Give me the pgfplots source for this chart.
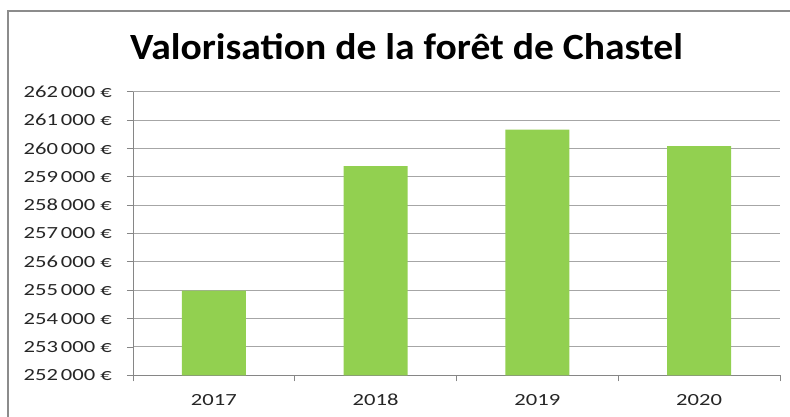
\documentclass[border=0pt]{standalone}
\usepackage{pgfplots}
\pgfplotsset{compat=1.18}
\usepackage{fontspec}
\setmainfont{Carlito}
\newfontfamily\tickfont[FakeStretch=1.33]{Carlito}
\newfontfamily\titlefont[FakeStretch=1.07]{Carlito}
\definecolor{bargreen}{HTML}{92D050}
\definecolor{gridgray}{HTML}{A6A6A6}
\definecolor{axisgray}{HTML}{868686}
\definecolor{framegray}{HTML}{8C8C8C}
\begin{document}
\begin{tikzpicture}
\useasboundingbox (0pt,0pt) rectangle (790pt,416pt);
\draw[framegray, line width=2.2pt] (8pt,-20pt) -- (8pt,405pt) -- (810pt,405pt);
\node[anchor=base, inner sep=0pt, font=\fontsize{37}{40}\selectfont\titlefont\bfseries] at (406.5pt,356.7pt) {Valorisation de la forêt de Chastel};
\begin{axis}[
  at={(133pt,40.7pt)}, anchor=south west,
  scale only axis, width=647pt, height=283.6pt,
  xmin=-0.5, xmax=3.5, ymin=252000, ymax=262000,
  xtick={-0.5,0.5,1.5,2.5,3.5}, xticklabels={},
  extra x ticks={0,1,2,3}, extra x tick labels={2017,2018,2019,2020},
  extra x tick style={major tick length=0pt, tick style={draw=none}},
  ytick={252000,253000,...,262000},
  yticklabels={252\,000 €,253\,000 €,254\,000 €,255\,000 €,256\,000 €,257\,000 €,258\,000 €,259\,000 €,260\,000 €,261\,000 €,262\,000 €},
  scaled y ticks=false,
  axis x line*=bottom, axis y line*=left,
  axis line style={axisgray, line width=0.8pt, -},
  tick style={axisgray, line width=0.8pt},
  tick align=outside, major tick length=6pt,
  ymajorgrids, grid style={gridgray, line width=0.9pt},
  tick label style={font=\fontsize{17}{20}\selectfont\tickfont, text=black!85},
  yticklabel style={anchor=east, inner sep=0pt, xshift=-15pt},
  xticklabel style={anchor=base, inner sep=0pt, yshift=-29.7pt},
  clip=false,
]
\addplot[ybar, bar width=64pt, fill=bargreen, draw=none] coordinates {
(0,254990) (1,259380) (2,260660) (3,260080)
};
\end{axis}
\end{tikzpicture}
\end{document}
